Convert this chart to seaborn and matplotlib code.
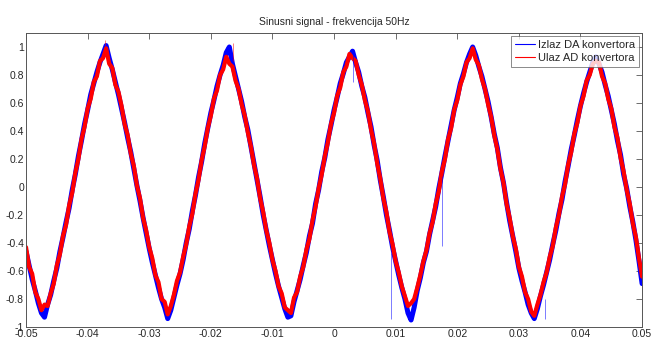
import numpy as np
import pandas as pd
import matplotlib
matplotlib.use("Agg")
import matplotlib.pyplot as plt
import seaborn as sns

# vremenska os: 201 uzorak od -0.05 s do 0.05 s (korak 0.5 ms)
vrijeme = np.linspace(-0.05, 0.05, 201)

# Izlaz DA konvertora (plavi)
izlaz_da = [
    -0.46, -0.56, -0.66, -0.74, -0.83, -0.90, -0.93, -0.84, -0.77, -0.67,
    -0.58, -0.46, -0.36, -0.25, -0.15, -0.02, 0.09, 0.22, 0.33, 0.45,
    0.55, 0.66, 0.74, 0.82, 0.89, 0.95, 1.01, 0.92, 0.84, 0.75,
    0.66, 0.56, 0.46, 0.35, 0.25, 0.13, 0.01, -0.10, -0.22, -0.33,
    -0.44, -0.54, -0.63, -0.72, -0.80, -0.86, -0.94, -0.88, -0.79, -0.70,
    -0.62, -0.52, -0.40, -0.30, -0.17, -0.06, 0.07, 0.18, 0.31, 0.42,
    0.53, 0.62, 0.72, 0.80, 0.87, 0.96, 1.00, 0.88, 0.79, 0.70,
    0.61, 0.50, 0.41, 0.29, 0.17, 0.05, -0.07, -0.20, -0.31, -0.42,
    -0.52, -0.62, -0.71, -0.79, -0.87, -0.93, -0.92, -0.82, -0.74, -0.66,
    -0.56, -0.47, -0.35, -0.26, -0.12, -0.02, 0.11, 0.21, 0.34, 0.44,
    0.55, 0.64, 0.74, 0.81, 0.89, 0.93, 0.97, 0.89, 0.82, 0.72,
    0.64, 0.53, 0.43, 0.30, 0.19, 0.05, -0.07, -0.20, -0.31, -0.43,
    -0.53, -0.63, -0.72, -0.80, -0.90, -0.95, -0.86, -0.74, -0.65, -0.54,
    -0.46, -0.34, -0.24, -0.14, -0.01, 0.10, 0.22, 0.33, 0.44, 0.55,
    0.64, 0.74, 0.81, 0.89, 0.95, 1.00, 0.94, 0.86, 0.79, 0.70,
    0.61, 0.50, 0.38, 0.28, 0.14, 0.03, -0.11, -0.24, -0.35, -0.46,
    -0.58, -0.67, -0.75, -0.84, -0.90, -0.94, -0.87, -0.78, -0.70, -0.61,
    -0.52, -0.41, -0.31, -0.19, -0.09, 0.04, 0.15, 0.27, 0.37, 0.48,
    0.58, 0.67, 0.75, 0.82, 0.89, 0.93, 0.88, 0.82, 0.73, 0.65,
    0.55, 0.45, 0.33, 0.23, 0.09, -0.01, -0.14, -0.25, -0.38, -0.53,
    -0.69,
]

# Ulaz AD konvertora (crveni)
ulaz_ad = [
    -0.43, -0.57, -0.62, -0.75, -0.80, -0.88, -0.84, -0.85, -0.76, -0.69,
    -0.56, -0.48, -0.35, -0.27, -0.13, -0.04, 0.10, 0.20, 0.34, 0.43,
    0.56, 0.63, 0.75, 0.79, 0.90, 0.92, 0.99, 0.88, 0.85, 0.73,
    0.68, 0.58, 0.45, 0.37, 0.24, 0.15, 0.01, -0.08, -0.22, -0.31,
    -0.43, -0.51, -0.63, -0.68, -0.80, -0.82, -0.91, -0.85, -0.77, -0.67,
    -0.61, -0.50, -0.41, -0.28, -0.19, -0.05, 0.05, 0.19, 0.29, 0.42,
    0.51, 0.63, 0.69, 0.80, 0.84, 0.93, 0.88, 0.86, 0.76, 0.70,
    0.59, 0.51, 0.39, 0.29, 0.16, 0.06, -0.08, -0.18, -0.31, -0.40,
    -0.52, -0.60, -0.71, -0.76, -0.86, -0.88, -0.90, -0.79, -0.75, -0.64,
    -0.57, -0.45, -0.37, -0.24, -0.14, -0.01, 0.09, 0.22, 0.32, 0.45,
    0.53, 0.65, 0.71, 0.82, 0.86, 0.95, 0.92, 0.90, 0.80, 0.73,
    0.62, 0.54, 0.41, 0.31, 0.17, 0.06, -0.08, -0.18, -0.32, -0.41,
    -0.53, -0.61, -0.71, -0.78, -0.85, -0.83, -0.80, -0.72, -0.63, -0.53,
    -0.45, -0.33, -0.25, -0.12, -0.03, 0.11, 0.20, 0.34, 0.42, 0.55,
    0.62, 0.73, 0.79, 0.89, 0.92, 0.99, 0.91, 0.87, 0.77, 0.70,
    0.59, 0.50, 0.37, 0.27, 0.13, 0.03, -0.12, -0.22, -0.35, -0.44,
    -0.57, -0.64, -0.75, -0.80, -0.89, -0.92, -0.84, -0.77, -0.68, -0.61,
    -0.50, -0.42, -0.29, -0.20, -0.07, 0.02, 0.16, 0.25, 0.38, 0.46,
    0.58, 0.65, 0.76, 0.80, 0.88, 0.90, 0.89, 0.79, 0.74, 0.63,
    0.56, 0.43, 0.35, 0.21, 0.11, -0.02, -0.12, -0.26, -0.36, -0.51,
    -0.64,
]

# pojedinacne smetnje (vrhovi) ocitane sa slike
smetnje_da_t = [0.0093, 0.0175, 0.0030, 0.0342]
smetnje_da_od = [-0.47, 0.08, 0.95, -0.80]
smetnje_da_do = [-0.94, -0.42, 0.75, -0.94]
smetnje_ad_t = [-0.0164, -0.0372]
smetnje_ad_od = [0.90, 0.95]
smetnje_ad_do = [1.03, 1.05]

df = pd.DataFrame({
    "t": np.concatenate([vrijeme, vrijeme]),
    "y": izlaz_da + ulaz_ad,
    "signal": ["Izlaz DA konvertora"] * len(izlaz_da) + ["Ulaz AD konvertora"] * len(ulaz_ad),
})

sns.set_theme(style="white")
plt.rcParams["font.family"] = ["Liberation Sans", "DejaVu Sans"]

fig = plt.figure(figsize=(6.54, 3.38), dpi=100)
ax = fig.add_axes([0.0398, 0.0325, 0.942, 0.870])

sns.lineplot(data=df[df.signal == "Izlaz DA konvertora"], x="t", y="y",
             color="#0000ff", linewidth=3.6, estimator=None, sort=False,
             label="Izlaz DA konvertora", ax=ax)
sns.lineplot(data=df[df.signal == "Ulaz AD konvertora"], x="t", y="y",
             color="#ff0000", linewidth=3.0, estimator=None, sort=False,
             label="Ulaz AD konvertora", ax=ax)

ax.vlines(smetnje_da_t, smetnje_da_od, smetnje_da_do, color="#0000ff", lw=0.6, alpha=0.6)
ax.vlines(smetnje_ad_t, smetnje_ad_od, smetnje_ad_do, color="#ff0000", lw=0.6, alpha=0.6)

ax.set_xlim(-0.05, 0.05)
ax.set_ylim(-1, 1.1)
ax.set_xticks(np.round(np.arange(-0.05, 0.051, 0.01), 2))
ax.set_xticklabels(["-0.05", "-0.04", "-0.03", "-0.02", "-0.01", "0",
                    "0.01", "0.02", "0.03", "0.04", "0.05"])
ax.set_yticks(np.round(np.arange(-1, 1.01, 0.2), 1))
ax.set_yticklabels(["-1", "-0.8", "-0.6", "-0.4", "-0.2", "0",
                    "0.2", "0.4", "0.6", "0.8", "1"])
ax.tick_params(direction="in", length=4, width=0.6, color="#555555",
               labelsize=7.5, top=True, right=True, pad=1.5)
for s in ax.spines.values():
    s.set_color("#555555")
    s.set_linewidth(0.7)
ax.set_xlabel("")
ax.set_ylabel("")
ax.set_title("Sinusni signal - frekvencija 50Hz", fontsize=7.5, pad=6)

leg = ax.legend(loc="upper right", fontsize=8, frameon=True, fancybox=False,
                edgecolor="#555555", borderpad=0.35, handlelength=1.8,
                handletextpad=0.25, labelspacing=0.25, borderaxespad=0.3)
leg.get_frame().set_linewidth(0.6)
for ln in leg.get_lines():
    ln.set_linewidth(0.8)

fig.savefig("out.png", dpi=100, facecolor="white")
